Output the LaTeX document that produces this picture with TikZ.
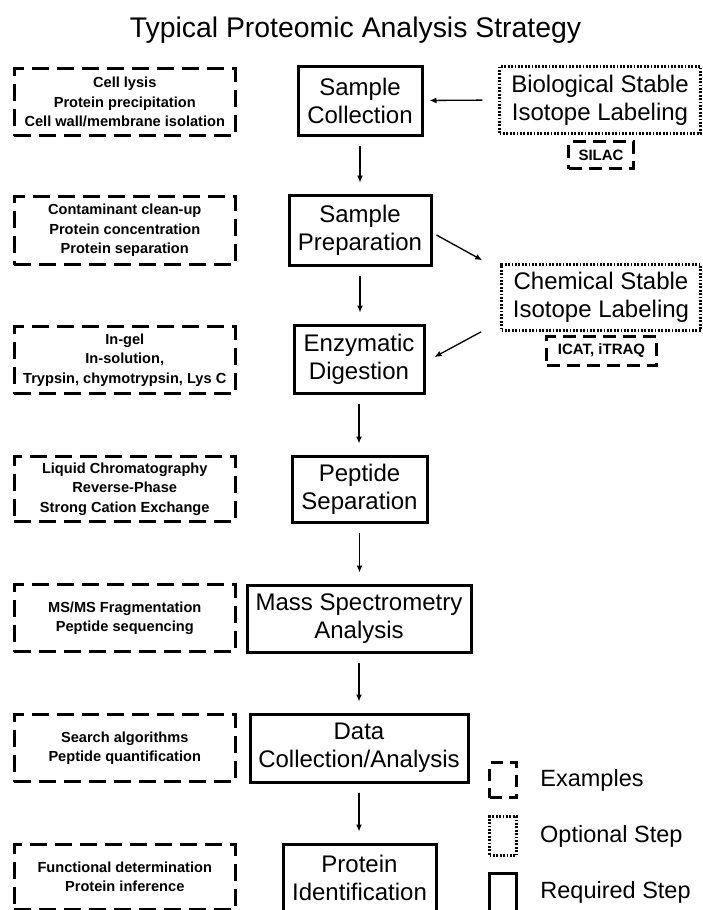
\documentclass[tikz,border=0pt]{standalone}
\usepackage{fontspec}
\setmainfont{Liberation Sans}
\usepackage{tikz}
\usetikzlibrary{positioning,arrows.meta,calc}

\begin{document}
\begin{tikzpicture}[thick, x=1pt, y=-1pt,
        stepbox/.style={draw,line width=3pt,inner sep=0pt,align=center,font=\fontsize{24}{28}\selectfont},
        optbox/.style={draw,line width=2.5pt,dash pattern=on 1.8pt off 1.6pt,inner sep=0pt,align=center,font=\fontsize{24}{28}\selectfont},
        exbox/.style={draw,line width=3pt,dash pattern=on 17pt off 8pt,inner sep=0pt,align=center,font=\bfseries\fontsize{14.6}{19.5}\selectfont},
        tagbox/.style={draw,line width=3pt,dash pattern=on 13pt off 7pt,inner sep=0pt,align=center,font=\bfseries\fontsize{15}{18}\selectfont},
        legtext/.style={inner sep=0pt,anchor=west,font=\fontsize{23.5}{28}\selectfont},
        arr/.style={-{Latex[length=7pt,width=6pt]},line width=1.3pt}]
    \useasboundingbox (0,0) rectangle (702,910);
    \node[anchor=base,font=\fontsize{28.4}{34}\selectfont] (title) at (355.5,37) {Typical Proteomic Analysis Strategy};

    % required steps
    \node[stepbox,minimum width=124pt,minimum height=69pt] (collect) at (360,100.5) {Sample\\Collection};
    \node[stepbox,minimum width=142pt,minimum height=70pt] (prep) at (360,230) {Sample\\Preparation};
    \node[stepbox,minimum width=130pt,minimum height=68pt] (digest) at (359,359) {Enzymatic\\Digestion};
    \node[stepbox,minimum width=135pt,minimum height=66pt] (sep) at (359.5,489) {Peptide\\Separation};
    \node[stepbox,minimum width=224pt,minimum height=67pt] (ms) at (359,618.5) {Mass Spectrometry\\Analysis};
    \node[stepbox,minimum width=218pt,minimum height=68pt] (data) at (359,748) {Data\\Collection/Analysis};
    \node[stepbox,minimum width=153pt,minimum height=68pt] (ident) at (359.5,878) {Protein\\Identification};

    % examples
    \node[exbox,minimum width=221.5pt,minimum height=67pt] (ex1) at (124.75,102) {Cell lysis\\Protein precipitation\\Cell wall/membrane isolation};
    \node[exbox,minimum width=221.5pt,minimum height=68pt] (ex2) at (124.75,230.5) {Contaminant clean-up\\Protein concentration\\Protein separation};
    \node[exbox,minimum width=221.5pt,minimum height=67pt] (ex3) at (124.75,360) {In-gel\\In-solution,\\Trypsin, chymotrypsin, Lys C};
    \node[exbox,minimum width=221.5pt,minimum height=65pt] (ex4) at (124.75,489) {Liquid Chromatography\\Reverse-Phase\\Strong Cation Exchange};
    \node[exbox,minimum width=221.5pt,minimum height=67pt] (ex5) at (124.75,618) {MS/MS Fragmentation\\Peptide sequencing};
    \node[exbox,minimum width=221.5pt,minimum height=67pt] (ex6) at (124.75,748) {Search algorithms\\Peptide quantification};
    \node[exbox,minimum width=221.5pt,minimum height=65pt] (ex7) at (124.75,877) {Functional determination\\Protein inference};

    % optional labeling
    \node[optbox,minimum width=201pt,minimum height=67pt] (bio) at (600,100) {Biological Stable\\Isotope Labeling};
    \node[tagbox,minimum width=65pt,minimum height=27pt] (silac) at (601,155) {SILAC};
    \node[optbox,minimum width=199pt,minimum height=66pt] (chem) at (601,297.5) {Chemical Stable\\Isotope Labeling};
    \node[tagbox,minimum width=110pt,minimum height=29pt] (icat) at (601.5,351) {ICAT, iTRAQ};

    \foreach \a/\b in {collect/prep,prep/digest,digest/sep,sep/ms,ms/data,data/ident}
        \draw[arr,shorten <=9pt,shorten >=11pt] (\a.south) -- (\a.south |- \b.north);
    \draw[arr,shorten <=16pt,shorten >=6pt] (bio.west) -- (collect.east);
    \draw[arr] ($(prep.east)+(4,5)$) -- ($(chem.north west)+(-18,-3)$);
    \draw[arr] ($(chem.south west)+(-19,0)$) -- ($(digest.east)+(9,-2)$);

    % legend
    \node[exbox,dash pattern=on 12pt off 7pt,minimum width=27pt,minimum height=35pt] (lgex) at (503,780) {};
    \node[optbox,minimum width=27pt,minimum height=39pt] (lgopt) at (503,836) {};
    \node[stepbox,minimum width=27pt,minimum height=38pt] (lgreq) at (503,892) {};
    \node[legtext,right=22pt of lgex] (lgextxt) {Examples};
    \node[legtext,right=22pt of lgopt] (lgopttxt) {Optional Step};
    \node[legtext,right=22pt of lgreq] (lgreqtxt) {Required Step};
\end{tikzpicture}
\end{document}
